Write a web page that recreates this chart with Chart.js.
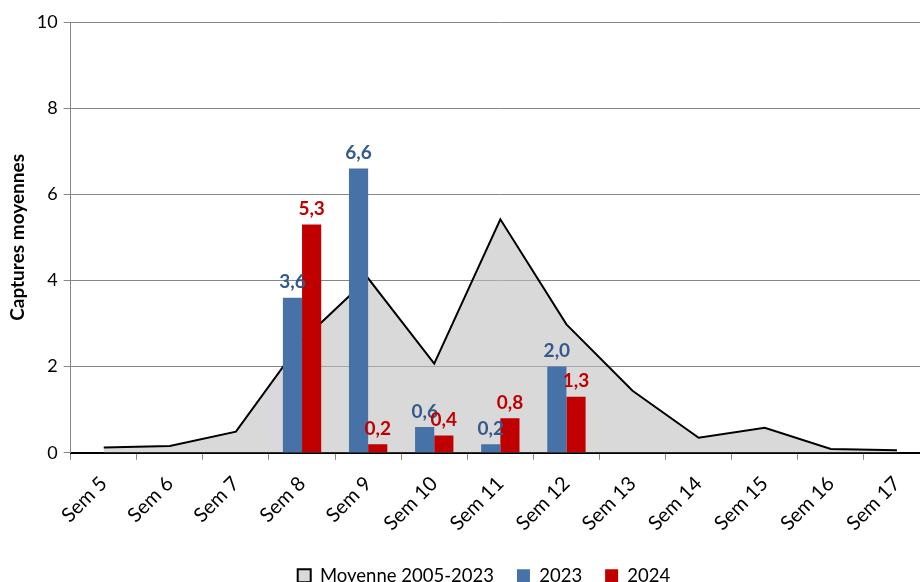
<!DOCTYPE html>
<html>
<head>
<meta charset="utf-8">
<script src="https://cdn.jsdelivr.net/npm/chart.js@4"></script>
<style>
  html, body { margin: 0; padding: 0; background: #fff; overflow: hidden; }
  #wrap { width: 950px; height: 582px; }
</style>
</head>
<body>
<div id="wrap"><canvas id="chart" width="950" height="582"></canvas></div>
<script>
let weeks = ['Sem 5', 'Sem 6', 'Sem 7', 'Sem 8', 'Sem 9', 'Sem 10', 'Sem 11', 'Sem 12', 'Sem 13', 'Sem 14', 'Sem 15', 'Sem 16', 'Sem 17']
let moyenne = [0.12, 0.16, 0.49, 2.6, 4.05, 2.07, 5.42, 2.98, 1.44, 0.35, 0.58, 0.09, 0.06]
let y2023 = [null, null, null, 3.6, 6.6, 0.6, 0.2, 2.0, null, null, null, null, null]
let y2024 = [null, null, null, 5.3, 0.2, 0.4, 0.8, 1.3, null, null, null, null, null]
let yTicks = [0, 2, 4, 6, 8, 10]

let fontFam = 'Lato, "Open Sans", sans-serif'

// valeurs au-dessus des barres, format 3,6
let barLabels = {
  id: 'barLabels',
  afterLayout(chart) {
    // légende un peu décalée vers la droite comme sur l'original
    chart.legend.left += 18
    chart.legend.right += 18
  },
  afterDatasetsDraw(chart) {
    let c = chart.ctx
    chart.data.datasets.forEach(function(ds, i) {
      if (ds.type !== 'bar') return
      let meta = chart.getDatasetMeta(i)
      meta.data.forEach(function(bar, j) {
        let v = ds.data[j]
        if (v === null) return
        c.save()
        c.font = 'bold 19px ' + fontFam
        c.fillStyle = ds.labelColor
        c.textAlign = 'center'
        c.textBaseline = 'bottom'
        c.fillText(v.toFixed(1).replace('.', ','), bar.x, bar.y - 6)
        c.restore()
      })
    })
  }
}

let ctx = document.getElementById('chart').getContext('2d')
let chart = new Chart(ctx, {
  data: {
    labels: weeks,
    datasets: [
      {
        type: 'line',
        label: 'Moyenne 2005-2023',
        data: moyenne,
        fill: 'origin',
        backgroundColor: 'rgba(190,190,190,0.58)',
        borderColor: '#000',
        borderWidth: 2,
        pointRadius: 0,
        tension: 0,
        order: 2
      },
      {
        type: 'bar',
        label: '2023',
        data: y2023,
        backgroundColor: '#4672A8',
        labelColor: '#34598C',
        barPercentage: 1,
        categoryPercentage: 0.58,
        order: 1
      },
      {
        type: 'bar',
        label: '2024',
        data: y2024,
        backgroundColor: '#C00000',
        labelColor: '#C00000',
        barPercentage: 1,
        categoryPercentage: 0.58,
        order: 1
      }
    ]
  },
  options: {
    responsive: false,
    animation: false,
    layout: { padding: { left: 2, top: 22, right: 20, bottom: -13 } },
    plugins: {
      tooltip: { enabled: false },
      legend: {
        position: 'bottom',
        labels: {
          font: { family: fontFam, size: 18.5 },
          color: '#000',
          boxWidth: 13,
          boxHeight: 13,
          padding: 23,
          sort: function(a, b) { return a.datasetIndex - b.datasetIndex }
        }
      }
    },
    scales: {
      x: {
        offset: true,
        afterFit: function(scale) { scale.height -= 4 },
        grid: { display: true, drawOnChartArea: false, drawTicks: true, tickLength: 7, offset: true, color: '#868686' },
        border: { color: '#000', width: 2 },
        ticks: {
          font: { family: fontFam, size: 20 },
          color: '#000',
          padding: 12,
          minRotation: 45,
          maxRotation: 45,
          autoSkip: false
        }
      },
      y: {
        min: 0,
        max: 10,
        afterBuildTicks: function(axis) {
          axis.ticks = yTicks.map(function(v) { return { value: v } })
        },
        grid: { color: '#868686', tickLength: 7 },
        border: { color: '#868686' },
        ticks: {
          font: { family: fontFam, size: 18 },
          color: '#000',
          padding: 6
        },
        title: {
          display: true,
          text: 'Captures moyennes',
          font: { family: fontFam, size: 19, weight: 'bold' },
          color: '#000',
          padding: { bottom: 2 }
        }
      }
    }
  },
  plugins: [barLabels]
})
</script>
</body>
</html>
